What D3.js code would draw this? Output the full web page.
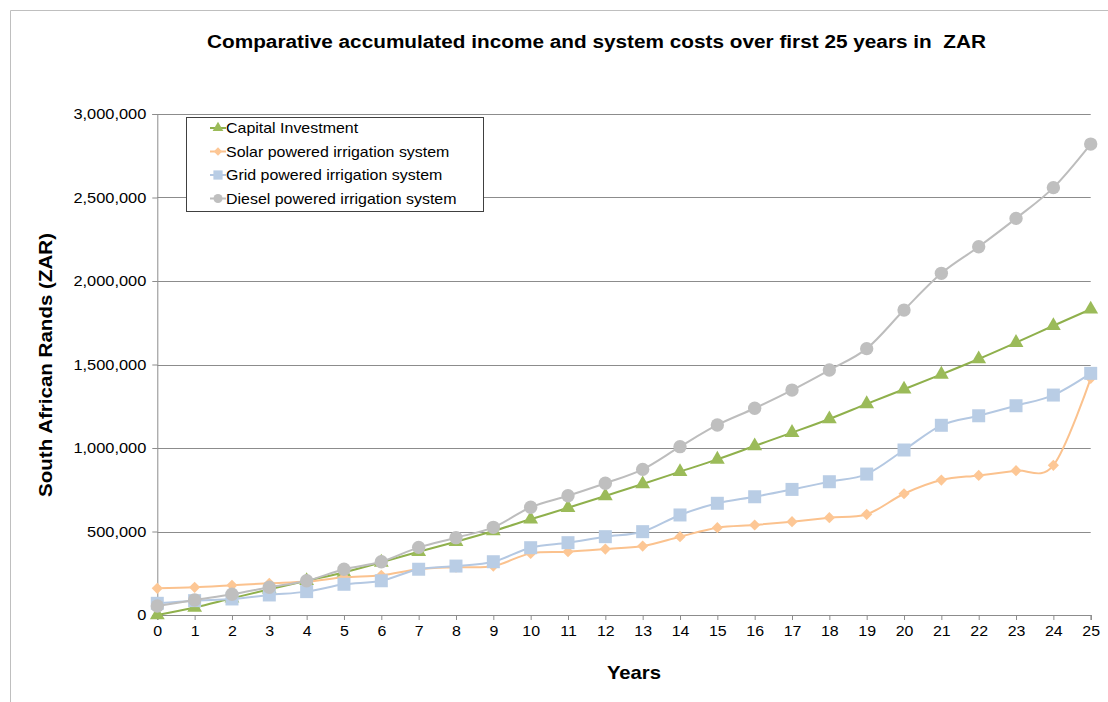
<!DOCTYPE html>
<html>
<head>
<meta charset="utf-8">
<script src="https://cdn.jsdelivr.net/npm/d3@7"></script>
<style>
  html, body { margin: 0; padding: 0; background: #fff; }
  svg { display: block; font-family: "Liberation Sans", Arial, sans-serif; }
</style>
</head>
<body>
<svg id="chart" width="1108" height="702"></svg>
<script>
const years = d3.range(0, 26);
const seriesNames = [
  "Capital Investment",
  "Solar powered irrigation system",
  "Grid powered irrigation system",
  "Diesel powered irrigation system"
];
const capital = [0, 45000, 100000, 154000, 205000, 255000, 315000, 379000, 439000, 503000,
  573000, 642000, 713000, 784000, 858000, 932000, 1012000, 1092000, 1174000, 1264000,
  1352000, 1441000, 1533000, 1631000, 1732000, 1831000];
const solar = [160000, 166000, 178000, 190000, 200000, 226000, 238000, 274000, 286000, 293000,
  369000, 379000, 395000, 413000, 469000, 523000, 539000, 559000, 583000, 603000,
  726000, 808000, 836000, 864000, 896000, 1417000];
const grid = [70000, 86000, 96000, 120000, 140000, 184000, 205000, 274000, 293000, 319000,
  403000, 433000, 469000, 499000, 599000, 669000, 708000, 752000, 798000, 844000,
  988000, 1136000, 1193000, 1253000, 1317000, 1447000];
const diesel = [54000, 90000, 124000, 166000, 205000, 274000, 319000, 405000, 463000, 525000,
  645000, 714000, 789000, 872000, 1008000, 1138000, 1238000, 1347000, 1467000, 1595000,
  1826000, 2046000, 2205000, 2375000, 2559000, 2820000];
const yTicks = [0, 500000, 1000000, 1500000, 2000000, 2500000, 3000000];

const title = "Comparative accumulated income and system costs over first 25 years in\u00a0 ZAR";
const yTitle = "South African Rands (ZAR)";
const xTitle = "Years";

const seriesData = [capital, solar, grid, diesel];
const lineColors = ["#8FB04C", "#FBC28E", "#B4C8E2", "#BDBDBD"];
const markColors = ["#9BBB59", "#FDC795", "#B9CDE5", "#BFBFBF"];
const symbols = [d3.symbolTriangle, d3.symbolDiamond2, d3.symbolSquare, d3.symbolCircle];
const sizes = [95, 80, 169, 140];
const legendSizes = [50, 45, 85, 65];

const svg = d3.select("#chart");

function stretch(sel, k) {
  sel.each(function () {
    const len = this.getComputedTextLength();
    d3.select(this).attr("textLength", len * k).attr("lengthAdjust", "spacingAndGlyphs");
  });
}

// outer frame
svg.append("line").attr("x1", 10.5).attr("x2", 1108).attr("y1", 10.5).attr("y2", 10.5)
  .attr("stroke", "#BFBFBF").attr("stroke-width", 1);
svg.append("line").attr("x1", 10.5).attr("x2", 10.5).attr("y1", 10.5).attr("y2", 702)
  .attr("stroke", "#BFBFBF").attr("stroke-width", 1);

const x = d3.scaleLinear().domain([0, 25]).range([157.3, 1090.7]);
const y = d3.scaleLinear().domain([0, 3000000]).range([615, 114]);

// gridlines
svg.append("g")
  .selectAll("line").data(yTicks.filter(d => d > 0)).join("line")
  .attr("x1", x(0)).attr("x2", x(25))
  .attr("y1", d => Math.round(y(d)) + 0.5).attr("y2", d => Math.round(y(d)) + 0.5)
  .attr("stroke", "#8C8C8C").attr("stroke-width", 1.2);

// y axis
const yAxis = svg.append("g")
  .attr("transform", `translate(${x(0)},0)`)
  .call(d3.axisLeft(y).tickValues(yTicks).tickFormat(d3.format(",")).tickSize(5).tickPadding(6));
yAxis.select(".domain").attr("stroke", "#8C8C8C");
yAxis.selectAll(".tick line").attr("stroke", "#8C8C8C");
yAxis.selectAll(".tick text").attr("font-size", 14.5).attr("fill", "#000")
  .attr("font-family", "Liberation Sans, Arial, sans-serif").call(stretch, 1.13);

// x axis
const xAxis = svg.append("g")
  .attr("transform", `translate(0,${y(0)})`)
  .call(d3.axisBottom(x).tickValues(years).tickFormat(d3.format("d")).tickSize(5).tickPadding(6));
xAxis.select(".domain").attr("stroke", "#8C8C8C").attr("stroke-width", 1.2);
xAxis.selectAll(".tick line").attr("stroke", "#8C8C8C");
xAxis.selectAll(".tick text").attr("font-size", 14.5).attr("fill", "#000")
  .attr("font-family", "Liberation Sans, Arial, sans-serif").call(stretch, 1.1);

// series
const line = d3.line()
  .x((d, i) => x(years[i]))
  .y(d => y(d))
  .curve(d3.curveCardinal.tension(0));

seriesData.forEach((vals, s) => {
  const g = svg.append("g");
  g.append("path").datum(vals)
    .attr("d", line)
    .attr("fill", "none")
    .attr("stroke", lineColors[s])
    .attr("stroke-width", 2);
  g.selectAll("path.mk").data(vals).join("path")
    .attr("class", "mk")
    .attr("transform", (d, i) => `translate(${x(years[i])},${y(d)})`)
    .attr("d", d3.symbol().type(symbols[s]).size(sizes[s]))
    .attr("fill", markColors[s]);
});

// title
svg.append("text")
  .attr("x", 596.5).attr("y", 48)
  .attr("text-anchor", "middle")
  .attr("font-size", 18).attr("font-weight", "bold")
  .attr("textLength", 779).attr("lengthAdjust", "spacingAndGlyphs")
  .text(title);

// y title
svg.append("text")
  .attr("transform", "translate(52,365) rotate(-90)")
  .attr("text-anchor", "middle")
  .attr("font-size", 18.5).attr("font-weight", "bold")
  .attr("textLength", 264).attr("lengthAdjust", "spacingAndGlyphs")
  .text(yTitle);

// x title
svg.append("text")
  .attr("x", 634).attr("y", 679)
  .attr("text-anchor", "middle")
  .attr("font-size", 18.5).attr("font-weight", "bold")
  .attr("textLength", 54).attr("lengthAdjust", "spacingAndGlyphs")
  .text(xTitle);

// legend
const lg = svg.append("g");
lg.append("rect")
  .attr("x", 186.5).attr("y", 117.5).attr("width", 297).attr("height", 94)
  .attr("fill", "#fff").attr("stroke", "#404040").attr("stroke-width", 1);
seriesNames.forEach((name, s) => {
  const cy = 128 + s * 23.5;
  lg.append("line").attr("x1", 210).attr("x2", 226).attr("y1", cy).attr("y2", cy)
    .attr("stroke", lineColors[s]).attr("stroke-width", 2);
  lg.append("path")
    .attr("transform", `translate(218,${cy})`)
    .attr("d", d3.symbol().type(symbols[s]).size(legendSizes[s]))
    .attr("fill", markColors[s]);
  lg.append("text")
    .attr("x", 226).attr("y", cy + 5)
    .attr("font-size", 14.5)
    .text(name)
    .call(stretch, 1.1);
});
</script>
</body>
</html>
